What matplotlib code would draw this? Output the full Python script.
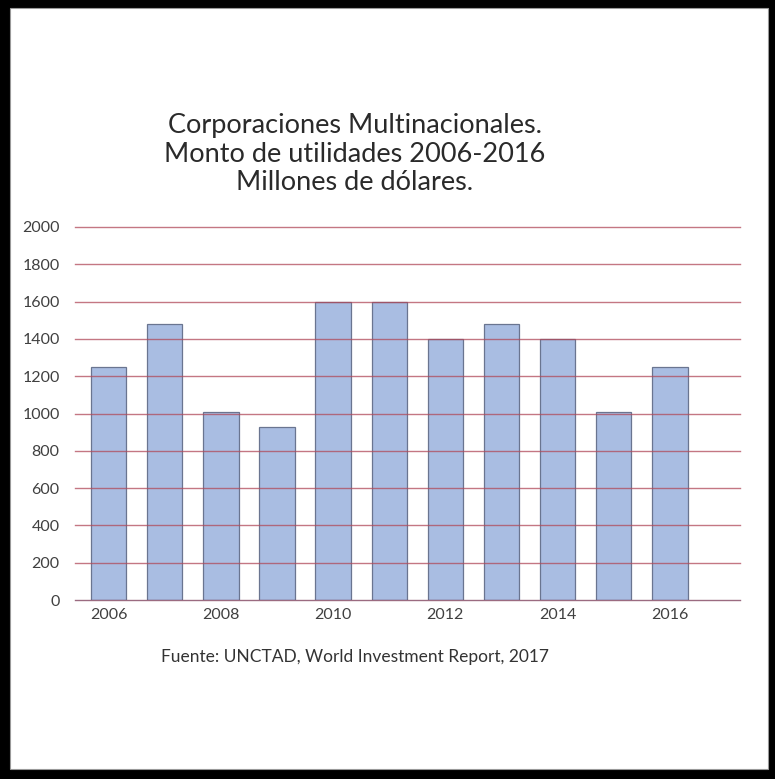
import matplotlib.pyplot as plt
from matplotlib.patches import Rectangle

years = [2006, 2007, 2008, 2009, 2010, 2011, 2012, 2013, 2014, 2015, 2016]
utilidades = [1250, 1480, 1010, 930, 1600, 1600, 1400, 1480, 1400, 1010, 1250]
yticks = [0, 200, 400, 600, 800, 1000, 1200, 1400, 1600, 1800, 2000]
xlabels = ['2006', '', '2008', '', '2010', '', '2012', '', '2014', '', '2016']

plt.rcParams['font.family'] = ['Lato', 'DejaVu Sans']

fig = plt.figure(figsize=(7.75, 7.79), dpi=100)
fig.patch.set_facecolor('black')
# white page inside the black frame
fig.patches.append(Rectangle((10 / 775, 10 / 779), 758 / 775, 761 / 779,
                             transform=fig.transFigure, facecolor='white',
                             edgecolor='#999999', linewidth=0.8, zorder=-5))

ax = fig.add_axes([75 / 775, 1 - 600 / 779, 665 / 775, 373 / 779])
ax.set_zorder(2)
ax.set_facecolor('none')

x = list(range(len(years)))
ax.bar(x, utilidades, width=0.63, color='#a9bde2', edgecolor='#6a7590',
       linewidth=0.9, zorder=2)

for v in yticks:
    c = '#7a3a55' if v == 0 else '#b04a5a'
    ax.axhline(v, color=c, linewidth=1.0, alpha=0.75, zorder=3, clip_on=False)

ax.set_xlim(-0.6, 11.25)
ax.set_ylim(0, 2000)
ax.set_yticks(yticks)
ax.set_xticks(x)
ax.set_xticklabels(xlabels)
ax.tick_params(length=0, labelsize=11.5, colors='#404040')
ax.tick_params(axis='y', pad=11)
ax.tick_params(axis='x', pad=6)
for s in ax.spines.values():
    s.set_visible(False)

fig.text(355 / 775, 1 - 154 / 779,
         'Corporaciones Multinacionales.\nMonto de utilidades 2006-2016\nMillones de dólares.',
         ha='center', va='center', fontsize=19.5, color='#2a2a2a',
         linespacing=1.2, zorder=5)
fig.text(355 / 775, 1 - 657 / 779,
         'Fuente: UNCTAD, World Investment Report, 2017',
         ha='center', va='center', fontsize=12.5, color='#333333', zorder=5)

fig.savefig('out.png', dpi=100, facecolor=fig.get_facecolor())
